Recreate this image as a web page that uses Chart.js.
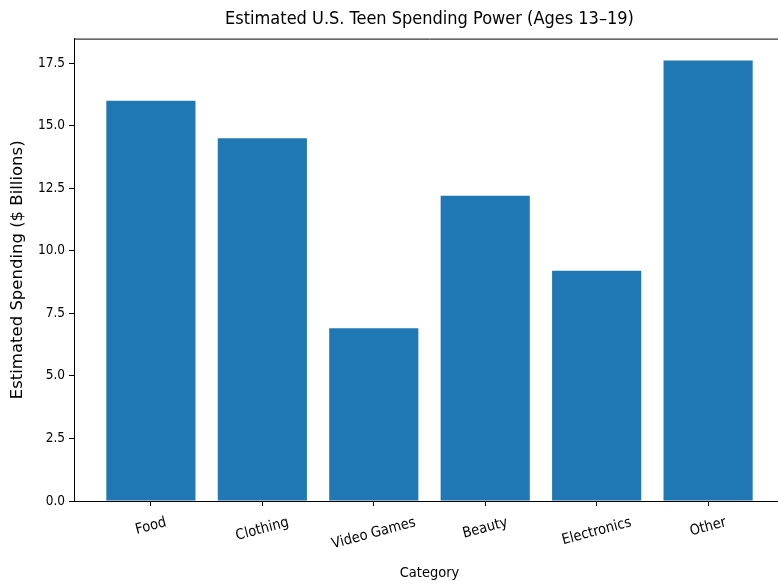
<!DOCTYPE html>
<html>
<head>
<meta charset="utf-8">
<script src="https://cdn.jsdelivr.net/npm/chart.js@4.4.1/dist/chart.umd.min.js"></script>
<style>
  body { margin: 0; background: #fff; }
  .wrap { width: 778px; height: 585px; overflow: hidden; }
</style>
</head>
<body>
<div class="wrap"><canvas id="chart" width="800" height="585"></canvas></div>
<script>
const categories = ["Food", "Clothing", "Video Games", "Beauty", "Electronics", "Other"];
const spending = [16.0, 14.5, 6.9, 12.2, 9.2, 17.6];
const yTicks = [0, 2.5, 5, 7.5, 10, 12.5, 15, 17.5];

const FONT = "'DejaVu Sans Condensed', 'DejaVu Sans', sans-serif";
Chart.defaults.font.family = FONT;
Chart.defaults.color = "#000";

// matplotlib-like limits: bars 0.8 wide, 5% margin
const xSpan = (categories.length - 1) + 0.8;
const xMin = -0.4 - 0.05 * xSpan;
const xMax = categories.length - 1 + 0.4 + 0.05 * xSpan;
const yMax = Math.max(...spending) * 1.05;

// top/right spine
const frame = {
  id: "frame",
  afterDraw(chart) {
    const { ctx, chartArea: a } = chart;
    ctx.save();
    ctx.strokeStyle = "#000";
    ctx.lineWidth = 1;
    ctx.beginPath();
    ctx.moveTo(a.left, a.top + 0.5);
    ctx.lineTo(a.right, a.top + 0.5);
    ctx.lineTo(a.right, a.bottom);
    ctx.stroke();
    ctx.restore();
  }
};

// rotated, centred category labels (matplotlib rotation=15, ha=center)
const xLabels = {
  id: "xLabels",
  afterDraw(chart) {
    const { ctx } = chart;
    const sx = chart.scales.x;
    const top = chart.chartArea.bottom + 14;
    const ang = 15 * Math.PI / 180;
    const h = 15;
    ctx.save();
    ctx.font = "14.5px " + FONT;
    ctx.fillStyle = "#000";
    ctx.textAlign = "center";
    ctx.textBaseline = "middle";
    categories.forEach((c, i) => {
      const w = ctx.measureText(c).width;
      const bh = w * Math.sin(ang) + h * Math.cos(ang);
      ctx.save();
      ctx.translate(sx.getPixelForValue(i), top + bh / 2);
      ctx.rotate(-ang);
      ctx.fillText(c, 0, 0);
      ctx.restore();
    });
    ctx.restore();
  }
};

new Chart(document.getElementById("chart"), {
  type: "bar",
  data: {
    datasets: [
      {
        data: categories.map((c, i) => ({ x: i, y: spending[i] })),
        backgroundColor: "#1f77b4",
        borderWidth: 0,
        categoryPercentage: 1,
        barPercentage: 0.8,
      },
    ],
  },
  options: {
    responsive: false,
    animation: false,
    devicePixelRatio: 1,
    layout: { padding: { left: 0, right: 15, top: 0, bottom: 0 } },
    plugins: {
      legend: { display: false },
      tooltip: { enabled: false },
      title: {
        display: true,
        text: "Estimated U.S. Teen Spending Power (Ages 13–19)",
        fullSize: false,
        font: { size: 18, weight: "normal" },
        padding: { top: 9, bottom: 8 },
      },
    },
    scales: {
      x: {
        type: "linear",
        offset: false,
        min: xMin,
        max: xMax,
        afterBuildTicks: (s) => { s.ticks = categories.map((c, i) => ({ value: i })); },
        afterFit: (s) => { s.height = 84; },
        ticks: { display: false },
        grid: { drawOnChartArea: false, drawTicks: true, tickLength: 5, color: "#000", offset: false },
        border: { display: true, color: "#000", width: 1 },
        title: {
          display: true,
          text: "Category",
          font: { size: 14.5 },
          padding: { top: 0, bottom: 3 },
        },
      },
      y: {
        min: 0,
        max: yMax,
        afterBuildTicks: (s) => { s.ticks = yTicks.map((v) => ({ value: v })); },
        afterFit: (s) => { s.width = 74; },
        ticks: {
          padding: 4,
          font: { size: 13.5 },
          callback: (v) => v.toFixed(1),
        },
        grid: { drawOnChartArea: false, drawTicks: true, tickLength: 5, color: "#000" },
        border: { display: true, color: "#000", width: 1 },
        title: {
          display: true,
          text: "Estimated Spending ($ Billions)",
          font: { family: "'DejaVu Sans', sans-serif", size: 16.5 },
          padding: { top: 8, bottom: 0 },
        },
      },
    },
  },
  plugins: [frame, xLabels],
});
</script>
</body>
</html>
